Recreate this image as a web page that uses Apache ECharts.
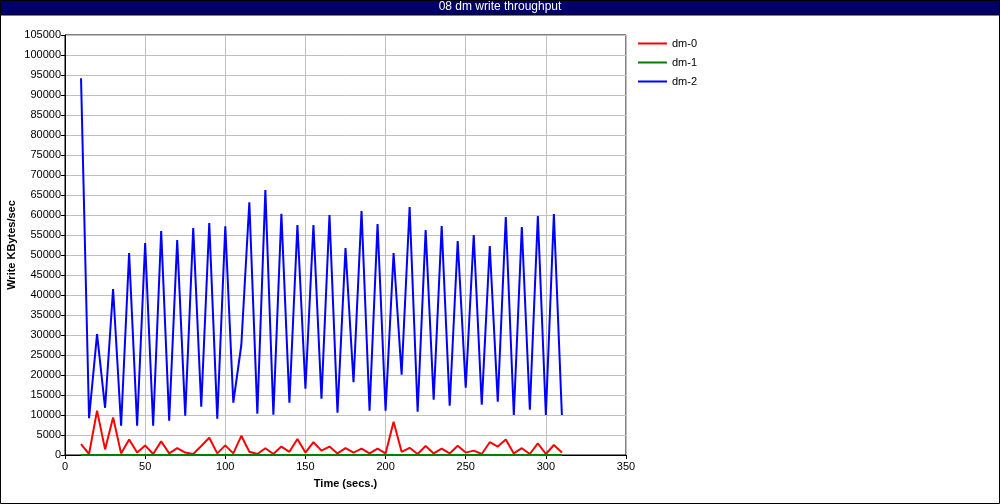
<!DOCTYPE html>
<html>
<head>
<meta charset="utf-8">
<script src="https://cdn.jsdelivr.net/npm/echarts@6/dist/echarts.min.js"></script>
<style>
html,body{margin:0;padding:0;background:#fff;}
#c{width:1000px;height:504px;}
</style>
</head>
<body>
<div id="c"></div>
<script>
var times = [10,15,20,25,30,35,40,45,50,55,60,65,70,75,80,85,90,95,100,105,110,115,120,125,130,135,140,145,150,155,160,165,170,175,180,185,190,195,200,205,210,215,220,225,230,235,240,245,250,255,260,265,270,275,280,285,290,295,300,305,310];
var dm0 = [2700,250,11100,1400,9400,400,3900,600,2400,250,3400,400,1700,600,250,2250,4300,400,2400,400,4800,800,250,1700,250,2100,800,4000,600,3200,1100,2100,400,1700,600,1600,400,1600,400,8300,800,1800,250,2250,400,1600,400,2300,600,1100,250,3200,2100,3900,400,1700,250,2900,250,2500,600];
var dm1 = times.map(function(){return 0;});
var dm2 = [94200,9200,30200,11800,41500,7300,50500,7300,53000,7300,56000,8600,53750,9800,56750,12100,58000,9100,57200,13100,27500,63200,10300,66250,10100,60300,13100,57500,16600,57500,14100,60000,10600,51750,18200,61000,11100,57750,11100,50500,20100,62000,10800,56250,13800,57250,12300,53500,16800,55000,12600,52250,13300,59500,10000,57000,11300,59750,10000,60250,10000];
var seriesNames = ['dm-0','dm-1','dm-2'];
var seriesColors = ['#ff0000','#008000','#0000ff'];
var titleText = '08 dm write throughput';
var xName = 'Time (secs.)';
var yName = 'Write KBytes/sec';

function pairs(arr){ return times.map(function(t,i){ return [t, arr[i]]; }); }
var allData = [dm0, dm1, dm2];

var font = 'Liberation Sans, Arial, sans-serif';
var chart = echarts.init(document.getElementById('c'), null, {renderer:'canvas'});
chart.setOption({
  animation: false,
  backgroundColor: '#ffffff',
  graphic: [
    {type:'rect', shape:{x:0.5,y:0.5,width:999,height:503}, style:{fill:'none', stroke:'#000', lineWidth:1}, z:100},
    {type:'rect', shape:{x:0,y:0,width:1000,height:15}, style:{fill:'#000066', stroke:'#000', lineWidth:1}, z:99},
    {type:'text', left:'center', top:1, style:{text:titleText, fill:'#ffffff', font:'12px ' + font}, z:101},
    {type:'text', x:12, y:245, rotation:Math.PI/2, style:{text:yName, fill:'#000', font:'bold 11px ' + font, align:'center', verticalAlign:'middle'}, z:101}
  ],
  legend: {
    orient: 'vertical',
    left: 633,
    top: 33,
    itemWidth: 29,
    itemHeight: 2,
    itemGap: 8,
    icon: 'rect',
    textStyle: {fontFamily: font, fontSize: 11, color: '#000'},
    data: seriesNames
  },
  grid: {
    left: 65, top: 35, right: 374, bottom: 49,
    containLabel: false,
    outerBoundsMode: 'none',
    show: true, borderColor: '#000', borderWidth: 1, backgroundColor: 'transparent'
  },
  xAxis: {
    type: 'value', min: 0, max: 350, interval: 50,
    name: xName, nameLocation: 'middle', nameGap: 23,
    nameTextStyle: {fontFamily: font, fontSize: 11, fontWeight: 'bold', color: '#000'},
    axisLine: {show: true, lineStyle: {color: '#000', width: 1}},
    axisTick: {show: true, inside: false, length: 4, lineStyle: {color: '#000'}},
    axisLabel: {fontFamily: font, fontSize: 11, color: '#000', margin: 6, formatter: function(v){return String(v);}},
    splitLine: {show: true, lineStyle: {color: '#c0c0c0', width: 1}}
  },
  yAxis: {
    type: 'value', min: 0, max: 105000, interval: 5000,
    axisLine: {show: true, lineStyle: {color: '#000', width: 1}},
    axisTick: {show: true, inside: false, length: 4, lineStyle: {color: '#000'}},
    axisLabel: {fontFamily: font, fontSize: 11, color: '#000', margin: 4, formatter: function(v){return String(v);}},
    splitLine: {show: true, lineStyle: {color: '#c0c0c0', width: 1}}
  },
  series: seriesNames.map(function(n, i){
    return {
      name: n, type: 'line', data: pairs(allData[i]),
      symbol: 'none', showSymbol: false,
      lineStyle: {color: seriesColors[i], width: 2},
      itemStyle: {color: seriesColors[i]},
      z: 2 + (i === 1 ? 3 : 0)
    };
  })
});
</script>
</body>
</html>
